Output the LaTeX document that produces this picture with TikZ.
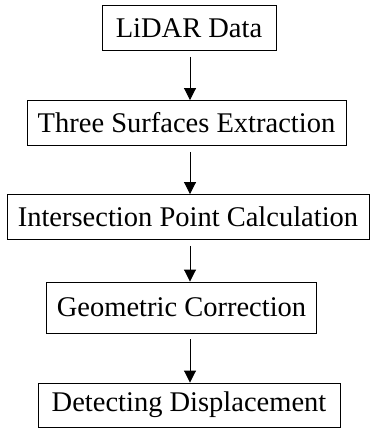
\documentclass[tikz,border=0pt]{standalone}
\usepackage{fontspec}
\setmainfont{Liberation Serif}
\usetikzlibrary{arrows.meta}

\tikzset{
    stepbox/.style={draw, line width=0.9pt, inner xsep=10pt, inner ysep=0pt,
        minimum height=45pt, font=\fontsize{28.5}{30}\selectfont},
    flow/.style={line width=0.9pt, -{Triangle[width=12pt,length=12pt]}, shorten <=6pt}
}

\begin{document}
\begin{tikzpicture}[x=1pt,y=1pt]
    \useasboundingbox (0,0) rectangle (370,-429);
    \node[stepbox, minimum width=174pt] (lidar) at (189,-28) {LiDAR Data};
    \node[stepbox, minimum width=319pt] (surfaces) at (186.5,-123) {Three Surfaces Extraction};
    \node[stepbox, minimum width=362pt] (intersect) at (188,-217) {Intersection Point Calculation};
    \node[stepbox, minimum width=263pt, minimum height=51pt] (correct) at (181.5,-307.5) {Geometric Correction};
    \node[stepbox, minimum width=302pt, minimum height=44pt] (detect) at (189,-405) {Detecting Displacement};
    \foreach \a/\b in {lidar/surfaces, surfaces/intersect, intersect/correct, correct/detect}{
        \draw[flow] (\a.south -| 190,0) -- (\b.north -| 190,0);
    }
\end{tikzpicture}
\end{document}
